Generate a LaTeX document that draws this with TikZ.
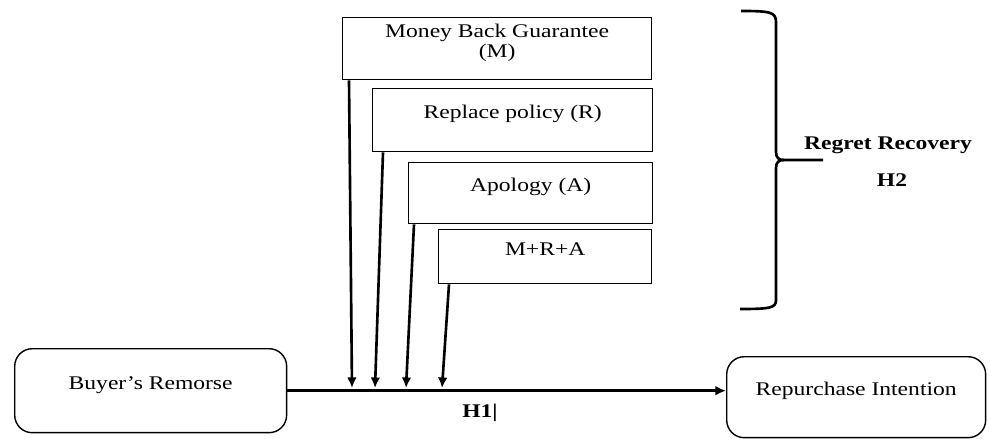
\documentclass[tikz,border=0pt]{standalone}
\usepackage{fontspec}
\setmainfont{Liberation Serif}[FakeStretch=1.22]
\usetikzlibrary{arrows.meta}

\begin{document}
\begin{tikzpicture}[
    x=0.02cm, y=-0.02cm,
    font=\fontsize{11}{11.5}\selectfont,
    >={Latex[length=6pt,width=5.5pt]},
    factor/.style={draw, line width=0.8pt, anchor=north west, align=center, inner sep=0pt, text depth=9pt},
    construct/.style={draw, rounded corners=10pt, line width=0.8pt, anchor=north west, inner sep=0pt, text depth=9pt},
    link/.style={->, line width=1.5pt},
    hyp/.style={font=\fontsize{11}{11.5}\selectfont\bfseries}
  ]
    \useasboundingbox (0,0) rectangle (990,439);

    % regret recovery strategies
    \node[factor, minimum width=6.18cm, minimum height=1.24cm] (mbg) at (342,17) {Money Back Guarantee\\(M)};
    \node[factor, minimum width=5.6cm, minimum height=1.26cm] (rep) at (372,88) {Replace policy (R)};
    \node[factor, minimum width=4.88cm, minimum height=1.22cm] (apo) at (408,162) {Apology (A)};
    \node[factor, minimum width=4.26cm, minimum height=1.08cm] (mra) at (438,229) {M+R+A};

    % main constructs
    \node[construct, minimum width=5.44cm, minimum height=1.68cm] (buyer) at (14,348) {Buyer's Remorse};
    \node[construct, minimum width=5.18cm, minimum height=1.62cm] (repint) at (726,356) {Repurchase Intention};

    % H1 path
    \draw[link] (buyer.east) -- (buyer.east -| repint.west);
    \coordinate (hm) at (352,388);
    \coordinate (hr) at (375,388);
    \coordinate (ha) at (406,388);
    \coordinate (hc) at (442,388);
    \draw[link] ([xshift=0.14cm]mbg.south west) -- (hm);
    \draw[link] ([xshift=0.22cm]rep.south west) -- (hr);
    \draw[link] ([xshift=0.12cm]apo.south west) -- (ha);
    \draw[link] ([xshift=0.22cm]mra.south west) -- (hc);
    \node[hyp] (h1) at (480,413) {H1|};

    % brace
    \draw[line width=1.5pt] (741,11) .. controls (770,11) and (776,12) .. (776,22)
        -- (776,152) .. controls (776,158) and (779,160) .. (784,160) -- (823,160);
    \draw[line width=1.5pt] (784,160) .. controls (779,160) and (776,162) .. (776,168)
        -- (776,300) .. controls (776,308) and (770,309) .. (740,309);
    \node[hyp] (rr) at (888,145) {Regret Recovery};
    \node[hyp] (h2) at (892,180) {H2};
  \end{tikzpicture}
\end{document}
